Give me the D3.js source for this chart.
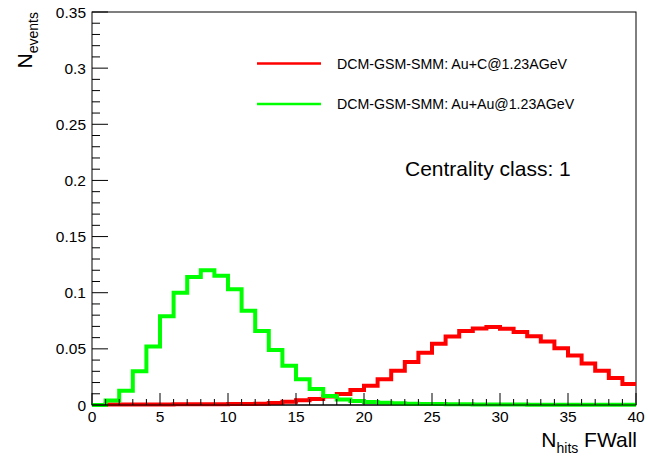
<!DOCTYPE html>
<html>
<head>
<meta charset="utf-8">
<script src="https://cdn.jsdelivr.net/npm/d3@7"></script>
<style>
  body { margin: 0; background: #fff; }
  svg { display: block; }
  text { font-family: "Liberation Sans", Arial, Helvetica, sans-serif; fill: #000; }
</style>
</head>
<body>
<svg id="chart" width="648" height="461"></svg>
<script>
// Bin edges: 40 bins of width 1 from 0 to 40
const binLow = d3.range(0, 40);
// Au+C (red)
const auC = [0.0000, 0.0005, 0.0005, 0.0005, 0.0005, 0.0005, 0.0006, 0.0006, 0.0007, 0.0007,
             0.0008, 0.0009, 0.0012, 0.0018, 0.0028, 0.0042, 0.0054, 0.0075, 0.0098, 0.0134,
             0.0172, 0.0230, 0.0306, 0.0383, 0.0466, 0.0545, 0.0610, 0.0660, 0.0682, 0.0695,
             0.0680, 0.0650, 0.0612, 0.0565, 0.0505, 0.0440, 0.0370, 0.0305, 0.0240, 0.0186];
// Au+Au (green)
const auAu = [0.0000, 0.0040, 0.0127, 0.0300, 0.0520, 0.0790, 0.1000, 0.1140, 0.1200, 0.1150,
              0.1030, 0.0840, 0.0660, 0.0490, 0.0350, 0.0229, 0.0142, 0.0080, 0.0050, 0.0036,
              0.0027, 0.0020, 0.0015, 0.0012, 0.0010, 0.0008, 0.0007, 0.0006, 0.0005, 0.0005,
              0.0004, 0.0004, 0.0003, 0.0003, 0.0003, 0.0002, 0.0002, 0.0002, 0.0002, 0.0002];
const xTicks = [0, 5, 10, 15, 20, 25, 30, 35, 40];
const yTicks = [0, 0.05, 0.1, 0.15, 0.2, 0.25, 0.3, 0.35];
const seriesNames = ["DCM-GSM-SMM: Au+C@1.23AGeV", "DCM-GSM-SMM: Au+Au@1.23AGeV"];
const seriesColors = ["#ff0000", "#00ff00"];

const L = 92, R = 636, T = 12, B = 405;
const svg = d3.select("#chart");
const x = d3.scaleLinear().domain([0, 40]).range([L, R]);
const y = d3.scaleLinear().domain([0, 0.35]).range([B, T]);

// frame
svg.append("rect").attr("x", L).attr("y", T).attr("width", R - L).attr("height", B - T)
  .attr("fill", "none").attr("stroke", "#000").attr("stroke-width", 1);

// histograms
function stepPts(vals) {
  const pts = binLow.map((b, i) => [b, vals[i]]);
  pts.push([40, vals[vals.length - 1]]);
  return pts;
}
const line = d3.line().x(d => x(d[0])).y(d => y(d[1])).curve(d3.curveStepAfter);
[auC, auAu].forEach((vals, k) => {
  svg.append("path").attr("d", line(stepPts(vals)))
    .attr("fill", "none").attr("stroke", seriesColors[k]).attr("stroke-width", 4)
    .attr("stroke-linejoin", "miter");
});

// x axis
const xMinor = d3.range(0, 41, 1);
svg.append("g").selectAll("line").data(xMinor).join("line")
  .attr("x1", d => x(d)).attr("x2", d => x(d))
  .attr("y1", B).attr("y2", d => B - (d % 5 === 0 ? 12 : 6))
  .attr("stroke", "#000").attr("stroke-width", 1);
svg.append("line").attr("x1", L).attr("x2", R).attr("y1", B).attr("y2", B)
  .attr("stroke", "#000").attr("stroke-width", 1);
svg.append("g").selectAll("text").data(xTicks).join("text")
  .attr("x", d => x(d)).attr("y", 422).attr("text-anchor", "middle")
  .attr("font-size", 15.5).text(d => d);

// y axis
const yMinor = d3.range(0, 36).map(i => i * 0.01);
svg.append("g").selectAll("line").data(yMinor).join("line")
  .attr("x1", L).attr("x2", (d, i) => L + (i % 5 === 0 ? 16 : 8))
  .attr("y1", d => y(d)).attr("y2", d => y(d))
  .attr("stroke", "#000").attr("stroke-width", 1);
svg.append("g").selectAll("text").data(yTicks).join("text")
  .attr("x", 86).attr("y", d => y(d) + 5.5).attr("text-anchor", "end")
  .attr("font-size", 15.5).text(d => d3.format("~g")(d));

// axis titles
const xt = svg.append("text").attr("x", 637).attr("y", 447).attr("text-anchor", "end")
  .attr("font-size", 21);
xt.append("tspan").text("N");
xt.append("tspan").attr("font-size", 14).attr("dy", 6).text("hits");
xt.append("tspan").attr("dy", -6).text(" FWall");

const yt = svg.append("text").attr("transform", "translate(32,12) rotate(-90)")
  .attr("text-anchor", "end").attr("font-size", 21);
yt.append("tspan").text("N");
yt.append("tspan").attr("font-size", 14).attr("dy", 6).text("events");

// legend
seriesNames.forEach((name, k) => {
  const ly = [63.5, 104][k];
  svg.append("line").attr("x1", 257).attr("x2", 321).attr("y1", ly).attr("y2", ly)
    .attr("stroke", seriesColors[k]).attr("stroke-width", 2.5);
  svg.append("text").attr("x", 337).attr("y", ly + 5).attr("font-size", 14.2).text(name);
});

svg.append("text").attr("x", 405).attr("y", 176).attr("font-size", 21).text("Centrality class: 1");
</script>
</body>
</html>
